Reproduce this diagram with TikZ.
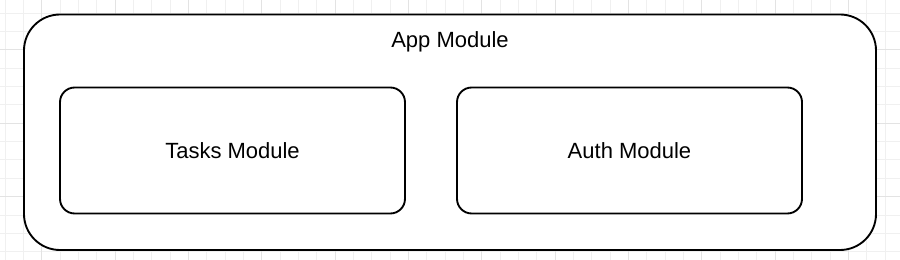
\documentclass[tikz,border=0pt]{standalone}
\usepackage{fontspec}
\setmainfont{Liberation Sans}
\begin{document}
\begin{tikzpicture}[x=0.75pt,y=-0.75pt,
  box/.style={draw=black,line width=1.4pt,fill=white,rounded corners=#1,inner sep=0pt},
  lbl/.style={font=\fontsize{16.5}{20}\selectfont,anchor=base,inner sep=0pt},
  minorgrid/.style={draw=black!6,line width=0.75pt},
  majorgrid/.style={draw=black!11,line width=0.75pt}]
\fill[white] (0,0) rectangle (900,260);
\useasboundingbox (0,0) rectangle (900,260);
\foreach \k in {0,...,49} {
  \draw[minorgrid] ({5+18.3333*\k},0) -- ({5+18.3333*\k},260);
}
\foreach \k in {0,...,13} {
  \draw[minorgrid] (0,{13.3333+18.3333*\k}) -- (900,{13.3333+18.3333*\k});
}
\foreach \k in {0,...,11} {
  \draw[majorgrid] ({41.6667+73.3333*\k},0) -- ({41.6667+73.3333*\k},260);
}
\foreach \k in {0,...,2} {
  \draw[majorgrid] (0,{50+73.3333*\k}) -- (900,{50+73.3333*\k});
}
\node[box=27pt,minimum width=852*0.75pt,minimum height=235.5*0.75pt] (appbox) at (450,132.25) {};
\node[box=11pt,minimum width=345*0.75pt,minimum height=126*0.75pt] (tasks) at (232.5,150.5) {};
\node[box=11pt,minimum width=345*0.75pt,minimum height=126*0.75pt] (auth) at (629.5,150.5) {};
\node[lbl] (app) at (450,48) {App Module};
\node[lbl] (tl) at (232.5,158) {Tasks Module};
\node[lbl] (al) at (629.5,158) {Auth Module};
\end{tikzpicture}
\end{document}
